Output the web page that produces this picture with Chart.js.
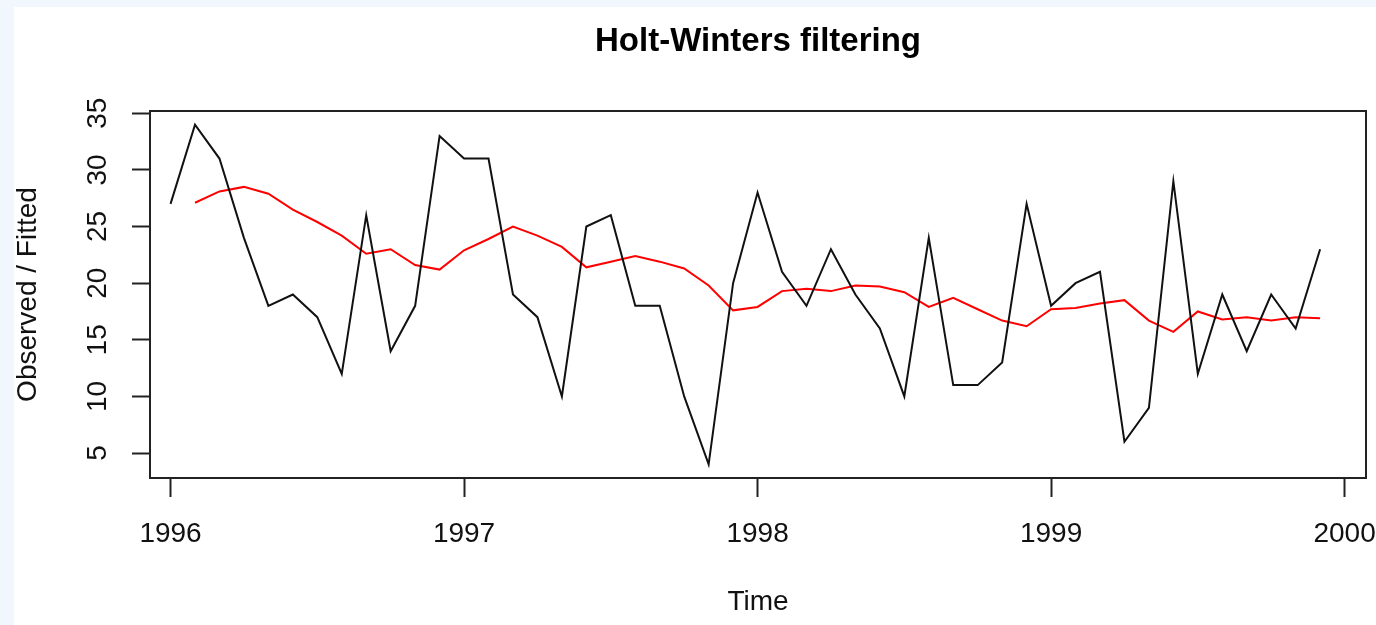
<!DOCTYPE html>
<html>
<head>
<meta charset="utf-8">
<title>Holt-Winters filtering</title>
<script src="https://cdn.jsdelivr.net/npm/chart.js@4.4.0/dist/chart.umd.min.js"></script>
<style>
  html, body { margin: 0; padding: 0; background: #f1f7fd; overflow: hidden; }
  .panel { position: absolute; left: 14px; top: 7px; width: 1362px; height: 618px; background: #fff; }
</style>
</head>
<body>
<div class="panel"><canvas id="chart" width="1362" height="618"></canvas></div>
<script>
// monthly series, Jan 1996 - Dec 1999
const startYear = 1996;
const frequency = 12;

const observed = [
    27, 34, 31, 24, 18, 19, 17, 12, 26, 14, 18, 33,
    31, 31, 19, 17, 10, 25, 26, 18, 18, 10, 4, 20,
    28, 21, 18, 23, 19, 16, 10, 24, 11, 11, 13, 27,
    18, 20, 21, 6, 9, 29, 12, 19, 14, 19, 16, 23
];

// fitted values start one month after the observed series
const fittedOffset = 1;
const fitted = [
    27.1, 28.1, 28.5, 27.9, 26.5, 25.4, 24.2, 22.6, 23.0, 21.6, 21.2,
    22.9, 23.9, 25.0, 24.2, 23.2, 21.4, 21.9, 22.4, 21.9, 21.3, 19.8, 17.6,
    17.9, 19.3, 19.5, 19.3, 19.8, 19.7, 19.2, 17.9, 18.7, 17.7, 16.7, 16.2,
    17.7, 17.8, 18.2, 18.5, 16.7, 15.7, 17.5, 16.8, 17.0, 16.7, 17.0, 16.9
];

const xTicks = [1996, 1997, 1998, 1999, 2000];
const yTicks = [5, 10, 15, 20, 25, 30, 35];

const toPoints = (values, offset) =>
    values.map((v, i) => ({ x: startYear + (i + offset) / frequency, y: v }));

Chart.defaults.font.family = "'Liberation Sans', Arial, sans-serif";
Chart.defaults.color = "#111";

// R-style box around the plot region
const frame = {
    id: "frame",
    afterDraw(chart) {
        const { ctx, chartArea: a } = chart;
        ctx.save();
        ctx.strokeStyle = "#222";
        ctx.lineWidth = 2;
        ctx.strokeRect(a.left, a.top, a.right - a.left, a.bottom - a.top);
        ctx.restore();
    }
};

new Chart(document.getElementById("chart").getContext("2d"), {
    type: "line",
    data: {
        datasets: [
            {
                label: "Observed",
                data: toPoints(observed, 0),
                borderColor: "#111",
                borderWidth: 2,
                pointRadius: 0,
                tension: 0
            },
            {
                label: "Fitted",
                data: toPoints(fitted, fittedOffset),
                borderColor: "#ff0000",
                borderWidth: 2,
                pointRadius: 0,
                tension: 0
            }
        ]
    },
    options: {
        responsive: false,
        animation: false,
        events: [],
        layout: { padding: { left: 0, right: 10, top: 0, bottom: 0 } },
        plugins: {
            legend: { display: false },
            tooltip: { enabled: false },
            title: {
                display: true,
                fullSize: false,
                text: "Holt-Winters filtering",
                color: "#000",
                font: { size: 33, weight: "bold" },
                padding: { top: 15, bottom: 49.4 }
            }
        },
        scales: {
            x: {
                type: "linear",
                min: 1995.93,
                max: 2000.073,
                afterBuildTicks: scale => {
                    scale.ticks = xTicks.map(v => ({ value: v }));
                },
                afterFit: scale => {
                    scale.height = 147;
                    scale.paddingLeft = 0;
                    scale.paddingRight = 0;
                },
                border: { display: false },
                grid: {
                    drawOnChartArea: false,
                    drawTicks: true,
                    tickLength: 19,
                    tickWidth: 2,
                    tickColor: "#222"
                },
                ticks: {
                    callback: v => String(v),
                    font: { size: 28 },
                    padding: 20,
                    maxRotation: 0
                },
                title: {
                    display: true,
                    text: "Time",
                    font: { size: 28 },
                    padding: { top: 0, bottom: 5.7 }
                }
            },
            y: {
                type: "linear",
                min: 2.8,
                max: 35.2,
                afterBuildTicks: scale => {
                    scale.ticks = yTicks.map(v => ({ value: v }));
                },
                afterFit: scale => {
                    scale.width = 136;
                    scale.paddingTop = 0;
                    scale.paddingBottom = 0;
                },
                border: { display: false },
                grid: {
                    drawOnChartArea: false,
                    drawTicks: true,
                    tickLength: 18,
                    tickWidth: 2,
                    tickColor: "#222"
                },
                ticks: {
                    callback: v => String(v),
                    font: { size: 28 },
                    minRotation: 90,
                    maxRotation: 90,
                    crossAlign: "center",
                    padding: 18
                },
                title: {
                    display: true,
                    text: "Observed / Fitted",
                    font: { size: 28, lineHeight: 1 },
                    padding: { top: 0, bottom: 0 }
                }
            }
        }
    },
    plugins: [frame]
});
</script>
</body>
</html>
